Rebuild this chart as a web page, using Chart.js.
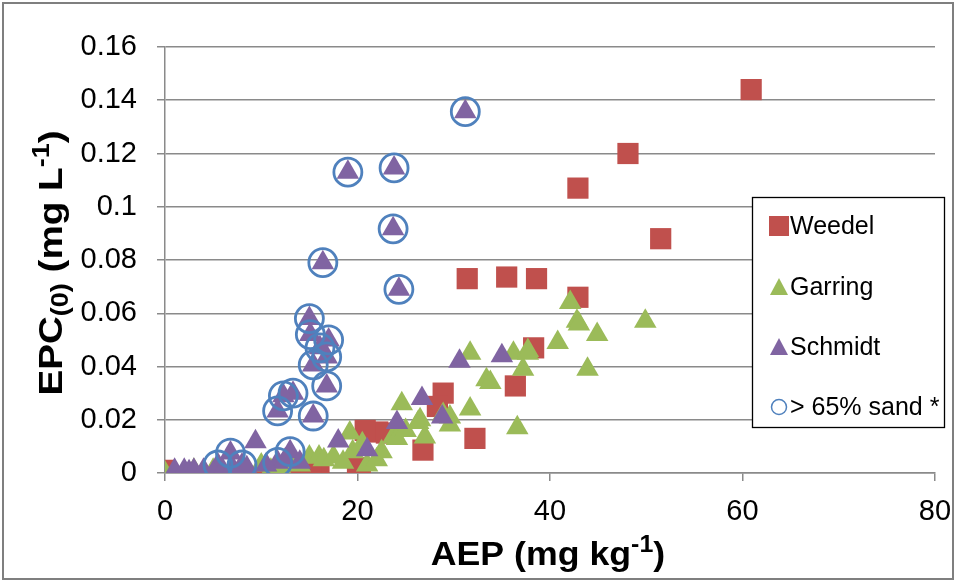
<!DOCTYPE html>
<html>
<head>
<meta charset="utf-8">
<script src="https://cdn.jsdelivr.net/npm/chart.js@4.4.1/dist/chart.umd.min.js"></script>
<style>
  html, body { margin: 0; padding: 0; background: #fff; }
  #wrap { width: 956px; height: 582px; position: relative; }
</style>
</head>
<body>
<div id="wrap"><canvas id="c" width="956" height="582"></canvas></div>
<script>
// ---- Data ----
const xTicks = [0, 20, 40, 60, 80];
const yTicks = [0, 0.02, 0.04, 0.06, 0.08, 0.1, 0.12, 0.14, 0.16];

const weedelX = [60.9, 48.1, 42.9, 51.5, 31.4, 35.5, 38.6, 42.9, 38.3, 36.4, 28.9, 28.3, 32.2, 26.8, 22.1, 20.8, 23.0, 20.3, 20.0, 0.0, 10.5, 11.5, 12.5, 14.5, 16.0, 15.2, 13.0, 11.0];
const weedelY = [0.144, 0.120, 0.107, 0.088, 0.073, 0.0736, 0.073, 0.066, 0.047, 0.0327, 0.030, 0.025, 0.013, 0.0086, 0.0154, 0.016, 0.015, 0.0005, 0.002, 0.001, 0.0, 0.001, 0.0, 0.0, 0.0, 0.002, 0.002, 0.001];

const garringX = [0, 3, 5, 7, 8, 10, 11, 12, 13, 14, 15, 16, 16.5, 17.5, 18.5, 19.2, 19.5, 20.5, 21, 22, 22.5, 23.7, 24.1, 24.6, 25, 26.3, 26.5, 27, 28.9, 29.6, 29.6, 31.7, 31.7, 33.4, 33.8, 36.2, 36.6, 37.2, 37.7, 37.7, 40.8, 42.1, 42.8, 43.0, 43.9, 44.9, 49.9];
const garringY = [0.000, 0.001, 0.001, 0.000, 0.002, 0.003, 0.001, 0.002, 0.004, 0.003, 0.006, 0.006, 0.005, 0.006, 0.004, 0.015, 0.008, 0.011, 0.003, 0.005, 0.008, 0.0135, 0.013, 0.026, 0.016, 0.019, 0.020, 0.0135, 0.022, 0.021, 0.018, 0.024, 0.045, 0.035, 0.034, 0.045, 0.017, 0.039, 0.046, 0.045, 0.049, 0.064, 0.057, 0.056, 0.039, 0.052, 0.057];

const schmidtX = [31.2, 19.0, 23.8, 23.7, 24.3, 16.4, 15.0, 15.1, 17.0, 16.1, 16.8, 15.4, 16.8, 15.4, 13.3, 12.3, 11.7, 5.5, 6.8, 8.0, 11.7, 13.0, 1, 2, 2.5, 3, 4, 5, 6, 7, 8.5, 9.4, 10.5, 12.5, 14, 18, 21, 24.1, 26.7, 28.8, 30.6, 35];
const schmidtY = [0.1357, 0.113, 0.1146, 0.0917, 0.069, 0.079, 0.058, 0.052, 0.050, 0.047, 0.0436, 0.0406, 0.0327, 0.0214, 0.030, 0.029, 0.0233, 0.003, 0.0075, 0.003, 0.004, 0.008, 0.001, 0.001, 0.0005, 0.001, 0.001, 0.0, 0.001, 0.002, 0.002, 0.0117, 0.003, 0.005, 0.004, 0.012, 0.0087, 0.019, 0.028, 0.021, 0.042, 0.044];

const sandX = [31.2, 19.0, 23.8, 23.7, 24.3, 16.4, 15.0, 15.1, 17.0, 16.1, 16.8, 15.4, 16.8, 15.4, 13.3, 12.3, 11.7, 5.5, 6.8, 8.0, 11.7, 13.0];
const sandY = [0.1357, 0.113, 0.1146, 0.0917, 0.069, 0.079, 0.058, 0.052, 0.050, 0.047, 0.0436, 0.0406, 0.0327, 0.0214, 0.030, 0.029, 0.0233, 0.003, 0.0075, 0.003, 0.004, 0.008];

const seriesNames = ['Weedel', 'Garring', 'Schmidt', '> 65% sand *'];

const RED = '#C0504D', GREEN = '#9BBB59', PURPLE = '#8064A2', BLUE = '#4F81BD';
const FONT = "'Liberation Sans', Arial, sans-serif";

function pts(xs, ys) { return xs.map((x, i) => ({ x: x, y: ys[i] })); }

const decorations = {
  id: 'decorations',
  beforeDraw(chart) {
    const ctx = chart.ctx;
    ctx.save();
    ctx.fillStyle = '#fff';
    ctx.fillRect(0, 0, chart.width, chart.height);
    ctx.strokeStyle = '#7f7f7f';
    ctx.lineWidth = 2;
    ctx.strokeRect(3, 3, 950, 576);
    ctx.restore();
  },
  afterDraw(chart) {
    const ctx = chart.ctx;
    function rich(parts, cx, cy, rot, size, stretch) {
      ctx.save();
      ctx.translate(cx, cy);
      if (rot) ctx.rotate(rot);
      ctx.scale(stretch, 1);
      let total = 0;
      const m = parts.map(p => {
        const s = p.m === 'n' ? size : size * 0.7;
        ctx.font = 'bold ' + s + 'px ' + FONT;
        const w = ctx.measureText(p.t).width;
        total += w;
        return { p, s, w };
      });
      let x = -total / 2;
      ctx.fillStyle = '#000';
      ctx.textBaseline = 'alphabetic';
      ctx.textAlign = 'left';
      m.forEach(o => {
        ctx.font = 'bold ' + o.s + 'px ' + FONT;
        let dy = size * 0.36;
        if (o.p.m === 'sup') dy -= size * 0.4;
        if (o.p.m === 'sub') dy += size * 0.18;
        ctx.fillText(o.p.t, x, dy);
        x += o.w;
      });
      ctx.restore();
    }
    rich([{ t: 'AEP (mg kg', m: 'n' }, { t: '-1', m: 'sup' }, { t: ')', m: 'n' }], 548, 553, 0, 34, 1.05);
    rich([{ t: 'EPC', m: 'n' }, { t: '(0)', m: 'sub' }, { t: ' (mg L', m: 'n' }, { t: '-1', m: 'sup' }, { t: ')', m: 'n' }], 50, 263, -Math.PI / 2, 33, 1.17);

    // legend box
    ctx.save();
    ctx.fillStyle = '#fff';
    ctx.fillRect(752, 197, 192, 230);
    ctx.strokeStyle = '#000';
    ctx.lineWidth = 1.3;
    ctx.strokeRect(752.5, 197.5, 192, 230);
    const rows = [226, 287, 347, 407];
    const mx = 779;
    ctx.font = '25px ' + FONT;
    ctx.textBaseline = 'middle';
    ctx.fillStyle = '#000';
    seriesNames.forEach((n, i) => {
      const y = rows[i];
      ctx.save();
      if (i === 0) {
        ctx.fillStyle = RED;
        ctx.fillRect(mx - 10, y - 10, 20, 20);
      } else if (i === 1 || i === 2) {
        ctx.fillStyle = i === 1 ? GREEN : PURPLE;
        ctx.beginPath();
        ctx.moveTo(mx, y - 9);
        ctx.lineTo(mx + 9, y + 8);
        ctx.lineTo(mx - 9, y + 8);
        ctx.closePath();
        ctx.fill();
      } else {
        ctx.strokeStyle = BLUE;
        ctx.lineWidth = 1.5;
        ctx.beginPath();
        ctx.arc(mx, y, 7.5, 0, Math.PI * 2);
        ctx.stroke();
      }
      ctx.restore();
      ctx.fillText(n, 790, y + 1);
    });
    ctx.restore();
  }
};

new Chart(document.getElementById('c'), {
  type: 'scatter',
  data: {
    datasets: [
      { label: seriesNames[0], data: pts(weedelX, weedelY), pointStyle: 'rect', pointRadius: 15, backgroundColor: RED, borderColor: RED, borderWidth: 0, order: 4 },
      { label: seriesNames[1], data: pts(garringX, garringY), pointStyle: 'triangle', pointRadius: 13, backgroundColor: GREEN, borderColor: GREEN, borderWidth: 0, order: 3 },
      { label: seriesNames[2], data: pts(schmidtX, schmidtY), pointStyle: 'triangle', pointRadius: 13, backgroundColor: PURPLE, borderColor: PURPLE, borderWidth: 0, order: 2 },
      { label: seriesNames[3], data: pts(sandX, sandY), pointStyle: 'circle', pointRadius: 14, backgroundColor: 'rgba(0,0,0,0)', borderColor: BLUE, borderWidth: 2.8, order: 1 }
    ]
  },
  options: {
    responsive: false,
    animation: false,
    events: [],
    layout: { padding: { left: 0, top: 47, right: 21, bottom: 0 } },
    plugins: { legend: { display: false }, tooltip: { enabled: false } },
    scales: {
      x: {
        type: 'linear', min: 0, max: 80,
        afterFit(s) { s.height = 109; s.paddingLeft = 0; s.paddingRight = 0; },
        afterBuildTicks(s) { s.ticks = xTicks.map(v => ({ value: v })); },
        grid: { drawOnChartArea: false, drawTicks: true, tickLength: 8, color: '#8a8a8a', lineWidth: 1.5 },
        border: { display: true, color: '#8a8a8a', width: 1.5 },
        ticks: { color: '#000', font: { family: FONT, size: 29 }, padding: 14, maxRotation: 0 }
      },
      y: {
        type: 'linear', min: 0, max: 0.16,
        afterFit(s) { s.width = 165; s.paddingTop = 0; s.paddingBottom = 0; },
        afterBuildTicks(s) { s.ticks = yTicks.map(v => ({ value: v })); },
        grid: { drawTicks: true, tickLength: 8, color: '#8a8a8a', lineWidth: 1.5 },
        border: { display: true, color: '#8a8a8a', width: 1.5 },
        ticks: { color: '#000', font: { family: FONT, size: 29 }, padding: 20, callback: v => String(+v.toFixed(2)) }
      }
    }
  },
  plugins: [decorations]
});
</script>
</body>
</html>
